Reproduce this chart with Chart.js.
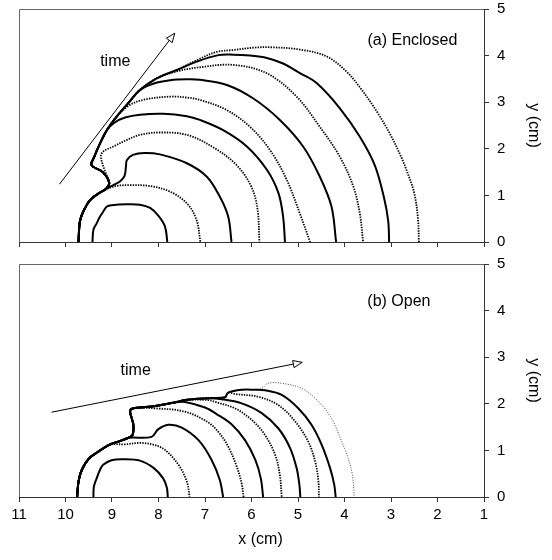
<!DOCTYPE html>
<html>
<head>
<meta charset="utf-8">
<script src="https://cdn.jsdelivr.net/npm/chart.js@4.4.1/dist/chart.umd.min.js"></script>
<style>
  html, body { margin: 0; padding: 0; background: #fff; }
  #wrap { position: relative; width: 552px; height: 560px; }
  canvas { position: absolute; left: 0; display: block; }
  #cA { top: 0; }
  #cB { top: 250px; }
</style>
</head>
<body>
<div id="wrap">
  <canvas id="cA" width="552" height="250"></canvas>
  <canvas id="cB" width="552" height="310"></canvas>
</div>
<script>
// tick values (cm)
var xTicks = [1, 2, 3, 4, 5, 6, 7, 8, 9, 10, 11];
var yTicks = [0, 1, 2, 3, 4, 5];

// ---- (a) Enclosed : fronts, [x, y] in cm ----
// shared lower-left envelope the outer fronts run along
var envA = [[9.72,0],[9.69,0.44],[9.60,0.69],[9.47,0.90],[9.29,1.04],[9.13,1.14],[9.06,1.27],
  [9.20,1.50],[9.44,1.65],[9.38,1.83],[9.26,2.11],[9.11,2.40],[8.90,2.69],[8.65,2.98],
  [8.40,3.26],[8.04,3.51],[7.61,3.69],[7.18,3.87],[6.71,4.01]];
var a1 = [[9.42,0],[9.40,0.26],[9.33,0.40],[9.26,0.54],[9.19,0.65],[9.11,0.76],[9.01,0.79],
  [8.68,0.81],[8.40,0.80],[8.18,0.73],[8.00,0.56],[7.86,0.33],[7.81,0]];
var a2 = [[8.97,1.19],[8.61,1.22],[8.18,1.20],[7.75,1.08],[7.39,0.83],[7.18,0.47],[7.10,0]];
var a3 = [[8.97,1.22],[8.83,1.30],[8.73,1.42],[8.70,1.62],[8.68,1.76],[8.55,1.87],[8.30,1.91],
  [7.97,1.88],[7.39,1.69],[6.96,1.40],[6.68,0.97],[6.50,0.54],[6.43,0]];
var a4 = [[9.15,1.52],[9.24,1.83],[9.19,1.94],[8.97,2.05],[8.68,2.19],[8.40,2.30],[7.97,2.35],
  [7.39,2.30],[6.82,2.03],[6.32,1.65],[6.00,1.18],[5.87,0.70],[5.83,0]];
var a5 = [[8.95,2.56],[8.72,2.67],[8.40,2.73],[7.90,2.75],[7.39,2.70],[7.11,2.62],[6.61,2.40],
  [6.10,2.05],[5.67,1.55],[5.42,1.05],[5.32,0.54],[5.28,0]];
var a6 = [[8.65,2.92],[8.33,3.05],[7.75,3.12],[7.39,3.10],[7.11,3.05],[6.53,2.83],[6.03,2.47],
  [5.60,1.97],[5.24,1.33],[4.96,0.61],[4.74,0]];
var a7 = [[8.10,3.40],[7.75,3.47],[7.39,3.49],[7.11,3.48],[6.53,3.37],[5.96,3.08],[5.39,2.62],
  [4.89,2.05],[4.53,1.40],[4.28,0.76],[4.18,0]];
var a8 = [[7.61,3.66],[7.11,3.75],[6.39,3.80],[5.67,3.62],[5.03,3.12],[4.53,2.47],[4.10,1.83],
  [3.81,1.19],[3.67,0.61],[3.60,0]];
var a9 = [[6.39,4.02],[6.03,4.00],[5.67,3.95],[5.32,3.83],[4.95,3.62],[4.60,3.41],[4.10,2.87],
  [3.67,2.26],[3.35,1.65],[3.15,0.95],[3.06,0.45],[3.04,0]];
var a10 = [[7.18,3.90],[6.75,4.08],[6.39,4.12],[5.96,4.17],[5.60,4.18],[4.96,4.13],[4.38,3.98],
  [3.95,3.65],[3.64,3.28],[3.28,2.76],[2.99,2.26],[2.77,1.80],[2.65,1.50],[2.50,1.05],[2.42,0.50],[2.40,0]];
var arrowA = [[10.13,1.24],[7.65,4.48]];

// ---- (b) Open ----
var envB = [[9.75,0],[9.72,0.33],[9.65,0.58],[9.50,0.82],[9.30,0.97],[9.06,1.12],[8.83,1.20],
  [8.65,1.27],[8.56,1.33],[8.54,1.55],[8.61,1.83],[8.56,1.90],[8.15,1.94],[7.65,2.03],
  [7.43,2.08],[6.93,2.12],[6.57,2.14],[6.50,2.24],[6.21,2.30],[5.92,2.30]];
var b1 = [[9.40,0],[9.39,0.22],[9.33,0.40],[9.26,0.58],[9.19,0.69],[9.01,0.79],[8.76,0.81],
  [8.40,0.78],[8.10,0.62],[7.90,0.40],[7.82,0.20],[7.80,0]];
var b2 = [[8.72,1.13],[8.40,1.16],[8.10,1.12],[7.86,1.01],[7.57,0.69],[7.39,0.33],[7.33,0]];
var b3 = [[8.15,1.29],[8.01,1.45],[7.79,1.55],[7.50,1.49],[7.14,1.22],[6.86,0.80],[6.68,0.36],[6.61,0]];
var b4 = [[8.04,1.90],[7.43,1.83],[6.93,1.60],[6.70,1.38],[6.50,1.08],[6.32,0.66],[6.21,0.28],[6.17,0]];
var b5 = [[7.43,2.04],[7.00,1.92],[6.75,1.78],[6.43,1.56],[6.14,1.22],[5.92,0.80],[5.80,0.40],[5.75,0]];
var b6 = [[6.93,2.08],[6.78,2.04],[6.35,1.90],[5.99,1.65],[5.71,1.33],[5.49,0.90],[5.39,0.47],[5.35,0]];
var b7 = [[6.64,2.10],[6.21,2.01],[5.78,1.80],[5.42,1.47],[5.17,1.05],[5.03,0.62],[4.97,0.26],[4.95,0]];
var b8 = [[6.35,2.21],[5.85,2.15],[5.42,1.97],[5.06,1.62],[4.78,1.19],[4.63,0.76],[4.56,0.33],[4.55,0]];
var b9 = [[5.71,2.29],[5.35,2.19],[4.99,1.90],[4.71,1.55],[4.49,1.12],[4.31,0.62],[4.22,0.26],[4.19,0]];
var b10 = [[5.90,2.31],[5.78,2.33],[5.64,2.44],[5.35,2.44],[4.92,2.33],[4.56,2.05],[4.28,1.69],
  [4.06,1.19],[3.92,0.83],[3.83,0.47],[3.79,0]];
var arrowB = [[10.30,1.82],[4.91,2.89]];

var FONT = '"Liberation Sans", Arial, Helvetica, sans-serif';

// solid / dotted front
function front(points, kind) {
  return {
    data: points.map(function (p) { return { x: p[0], y: p[1] }; }),
    borderColor: kind == 'thin' ? '#444' : '#000',
    borderWidth: kind == 'solid' ? 2 : (kind == 'thin' ? 1 : 1.8),
    borderDash: kind == 'solid' ? [] : (kind == 'thin' ? [1, 1.5] : [1.4, 1.2]),
    pointRadius: 0,
    tension: 0.35,
    fill: false
  };
}
function arrowLine(points) {
  return {
    data: points.map(function (p) { return { x: p[0], y: p[1] }; }),
    borderColor: '#000', borderWidth: 1, pointRadius: 0, tension: 0, fill: false
  };
}

// frame, arrow head and in-plot labels
var extras = {
  id: 'extras',
  afterDatasetsDraw: function (chart, args, opts) {
    var ctx = chart.ctx, a = chart.chartArea, xs = chart.scales.x, ys = chart.scales.y;
    ctx.save();
    ctx.strokeStyle = '#666';
    ctx.lineWidth = 1;
    ctx.beginPath();
    ctx.moveTo(a.left + 0.5, a.bottom);
    ctx.lineTo(a.left + 0.5, a.top + 0.5);
    ctx.lineTo(a.right, a.top + 0.5);
    ctx.stroke();

    var p0 = { x: xs.getPixelForValue(opts.arrow[0][0]), y: ys.getPixelForValue(opts.arrow[0][1]) };
    var p1 = { x: xs.getPixelForValue(opts.arrow[1][0]), y: ys.getPixelForValue(opts.arrow[1][1]) };
    var ang = Math.atan2(p1.y - p0.y, p1.x - p0.x);
    var L = 9, W = 3.6;
    var bx = p1.x - L * Math.cos(ang), by = p1.y - L * Math.sin(ang);
    ctx.beginPath();
    ctx.moveTo(p1.x, p1.y);
    ctx.lineTo(bx + W * Math.sin(ang), by - W * Math.cos(ang));
    ctx.lineTo(bx - W * Math.sin(ang), by + W * Math.cos(ang));
    ctx.closePath();
    ctx.fillStyle = '#fff';
    ctx.fill();
    ctx.strokeStyle = '#000';
    ctx.stroke();

    ctx.fillStyle = '#000';
    ctx.font = '16px ' + FONT;
    ctx.textAlign = 'center';
    ctx.textBaseline = 'middle';
    opts.labels.forEach(function (l) {
      ctx.fillText(l.text, xs.getPixelForValue(l.x), ys.getPixelForValue(l.y));
    });
    // x axis title sits a little right of the plot centre in the original
    if (opts.xTitle) {
      ctx.fillText(opts.xTitle, (a.left + a.right) / 2 + 9, a.bottom + 43);
    }
    ctx.restore();
  }
};

function noPad(s) {
  s.paddingTop = 0; s.paddingBottom = 0; s.paddingLeft = 0; s.paddingRight = 0;
}

function makeChart(id, fronts, arrow, labels, bottomPanel) {
  var datasets = fronts.map(function (f) { return front(f[0], f[1]); });
  datasets.push(arrowLine(arrow));
  return new Chart(document.getElementById(id), {
    type: 'line',
    data: { datasets: datasets },
    options: {
      responsive: false,
      animation: false,
      devicePixelRatio: 1,
      layout: { padding: { left: 19, top: bottomPanel ? 14 : 9, right: 0, bottom: 0 } },
      plugins: {
        legend: { display: false },
        tooltip: { enabled: false },
        extras: { arrow: arrow, labels: labels, xTitle: bottomPanel ? 'x (cm)' : null }
      },
      scales: {
        x: {
          type: 'linear', reverse: true, min: 1, max: 11,
          afterBuildTicks: function (s) { s.ticks = xTicks.map(function (v) { return { value: v }; }); },
          afterFit: function (s) { s.height = bottomPanel ? 63 : 8; noPad(s); },
          grid: { display: true, drawOnChartArea: false, drawTicks: true, tickLength: 5, color: '#333' },
          border: { display: true, color: '#333', width: 1 },
          ticks: { display: bottomPanel, padding: 4, color: '#000', font: { family: FONT, size: 15 } },
          title: { display: false }
        },
        y: {
          type: 'linear', position: 'right', min: 0, max: 5,
          afterBuildTicks: function (s) { s.ticks = yTicks.map(function (v) { return { value: v }; }); },
          afterFit: function (s) { s.width = 68; noPad(s); },
          grid: { display: true, drawOnChartArea: false, drawTicks: true, tickLength: 5, color: '#333' },
          border: { display: true, color: '#333', width: 1 },
          ticks: { padding: 8, color: '#000', font: { family: FONT, size: 15 } },
          title: { display: true, text: 'y (cm)', color: '#000', font: { family: FONT, size: 16 },
                   padding: { top: 9, bottom: 0 } }
        }
      }
    },
    plugins: [extras]
  });
}

makeChart('cA', [
  [a1, 'solid'],
  [envA.slice(0, 5).concat(a2), 'dot'],
  [envA.slice(0, 6).concat(a3), 'solid'],
  [envA.slice(0, 7).concat(a4), 'dot'],
  [envA.slice(0, 12).concat(a5), 'solid'],
  [envA.slice(0, 13).concat(a6), 'dot'],
  [envA.slice(0, 15).concat(a7), 'solid'],
  [envA.slice(0, 16).concat(a8), 'dot'],
  [envA.concat(a9), 'solid'],
  [envA.slice(0, 17).concat(a10), 'dot']
], arrowA, [
  { text: 'time', x: 8.93, y: 3.87 },
  { text: '(a) Enclosed', x: 2.54, y: 4.32 }
], false);

makeChart('cB', [
  [b1, 'solid'],
  [envB.slice(0, 6).concat(b2), 'dot'],
  [envB.slice(0, 8).concat(b3), 'solid'],
  [envB.slice(0, 12).concat(b4), 'dot'],
  [envB.slice(0, 14).concat(b5), 'solid'],
  [envB.slice(0, 15).concat(b6), 'dot'],
  [envB.slice(0, 16).concat(b7), 'solid'],
  [envB.slice(0, 18).concat(b8), 'dot'],
  [envB.concat(b9), 'solid'],
  [envB.slice(0, 19).concat(b10), 'thin']
], arrowB, [
  { text: 'time', x: 8.49, y: 2.71 },
  { text: '(b) Open', x: 2.83, y: 4.19 }
], true);
</script>
</body>
</html>
